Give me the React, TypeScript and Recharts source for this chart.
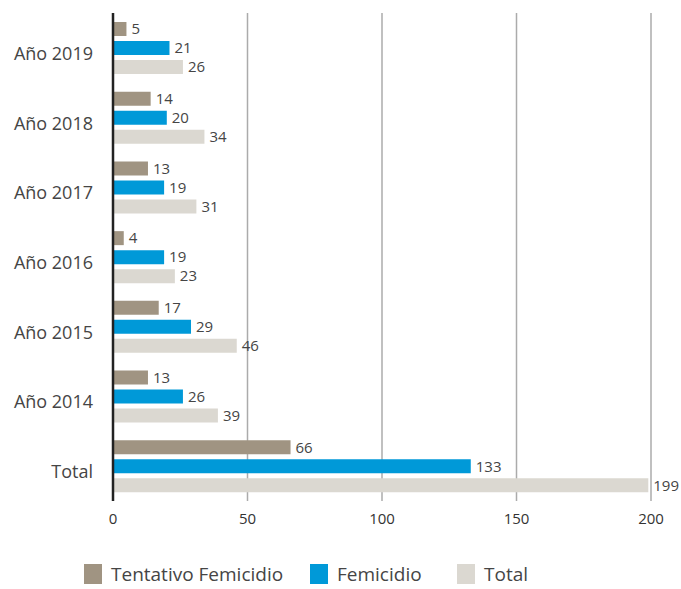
import React from 'react';
import { BarChart, Bar, XAxis, YAxis, CartesianGrid, LabelList, Legend } from 'recharts';

const categories = ['Año 2019', 'Año 2018', 'Año 2017', 'Año 2016', 'Año 2015', 'Año 2014', 'Total'];
const tentativo = [5, 14, 13, 4, 17, 13, 66];
const femicidio = [21, 20, 19, 19, 29, 26, 133];
const totales = [26, 34, 31, 23, 46, 39, 199];
const xTicks = [0, 50, 100, 150, 200];
const seriesNames = ['Tentativo Femicidio', 'Femicidio', 'Total'];
const seriesKeys = ['tentativo', 'femicidio', 'total'];
const seriesColors = ['#a09482', '#0099d8', '#dbd8d1'];

const data = categories.map((name, i) => ({
  name,
  tentativo: tentativo[i],
  femicidio: femicidio[i],
  total: totales[i],
}));

const FONT = '"Open Sans", sans-serif';
const TEXT = '#454545';
const legendLeft = [84, 310, 457];

const YTick = (props: any) => {
  const { x, y, payload } = props;
  return (
    <text x={x - 12} y={y} dy={12} textAnchor="end" fontSize={18} fill={TEXT} fontFamily={FONT}>
      {payload.value}
    </text>
  );
};

const LegendContent = () => (
  <div style={{ position: 'relative', height: 40, fontFamily: FONT }}>
    {seriesNames.map((n, i) => (
      <div
        key={n}
        style={{ position: 'absolute', left: legendLeft[i], top: 14, display: 'flex', alignItems: 'center', whiteSpace: 'nowrap' }}
      >
        <div style={{ width: 18, height: 20, background: seriesColors[i], marginRight: 9 }} />
        <span style={{ fontSize: 19, color: TEXT, lineHeight: '22px' }}>{n}</span>
      </div>
    ))}
  </div>
);

export default function App() {
  return (
    <div style={{ position: 'absolute', left: 0, top: 0, width: 681, height: 589, background: '#fff' }}>
      <BarChart
        width={681}
        height={589}
        data={data}
        layout="vertical"
        margin={{ top: 13, right: 30, bottom: 0, left: 0 }}
        barSize={14}
        barGap={5}
        style={{ fontFamily: FONT }}
      >
        <CartesianGrid horizontal={false} stroke="#ababab" strokeWidth={1.5} />
        <XAxis
          type="number"
          domain={[0, 200]}
          ticks={xTicks}
          axisLine={false}
          tickLine={false}
          tickMargin={6}
          height={48}
          tick={{ fontSize: 15, fill: '#333', fontFamily: FONT }}
        />
        <YAxis
          type="category"
          dataKey="name"
          width={113}
          axisLine={{ stroke: '#222', strokeWidth: 2.5 }}
          tickLine={false}
          tick={<YTick />}
        />
        <Legend
          verticalAlign="bottom"
          height={40}
          wrapperStyle={{ left: 0, width: 681 }}
          content={<LegendContent />}
        />
        {seriesKeys.map((k, i) => (
          <Bar key={k} dataKey={k} name={seriesNames[i]} fill={seriesColors[i]} isAnimationActive={false}>
            <LabelList dataKey={k} position="right" offset={5} fontSize={15} fill={TEXT} fontFamily={FONT} />
          </Bar>
        ))}
      </BarChart>
    </div>
  );
}
